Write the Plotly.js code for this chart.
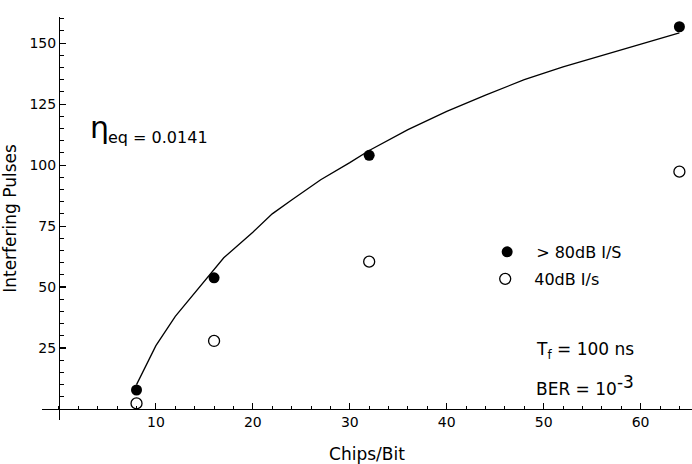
<!DOCTYPE html>
<html>
<head>
<meta charset="utf-8">
<script src="https://cdn.plot.ly/plotly-3.0.1.min.js"></script>
<style>
  html, body { margin: 0; padding: 0; background: #fff; }
  #chart { width: 692px; height: 464px; }
</style>
</head>
<body>
<div id="chart"></div>
<script>
// Measured interfering pulses per chips/bit setting
const chipsPerBit = [8, 16, 32, 64];
const pulses80dB = [7.8, 53.8, 104, 156.7];
const pulses40dB = [2.3, 27.9, 60.4, 97.3];

// Fitted curve (eta_eq = 0.0141)
const fitChips  = [8, 10, 12, 14, 16, 17, 20, 22, 24, 27, 30, 32, 36, 40, 44, 48, 52, 56, 60, 64];
const fitPulses = [10, 26, 38, 47.5, 57, 62, 72.5, 80, 85.7, 94, 101, 106, 114.5, 122, 128.7, 135, 140.3, 145, 149.5, 154.2];

// Axis ticks and ranges
const xTickVals = [10, 20, 30, 40, 50, 60];
const yTickVals = [25, 50, 75, 100, 125, 150];
const xRange = [-1.75, 65.3];
const yRange = [-4.5, 160.7];

// Axes cross at the origin
const xAxisPos = (0 - yRange[0]) / (yRange[1] - yRange[0]);
const yAxisPos = (0 - xRange[0]) / (xRange[1] - xRange[0]);

const FONT = 'DejaVu Sans, Verdana, sans-serif';

const traces = [
  {
    x: fitChips, y: fitPulses, type: 'scatter', mode: 'lines',
    line: { color: '#000', width: 1.3, shape: 'linear' },
    showlegend: false, hoverinfo: 'skip'
  },
  {
    x: chipsPerBit, y: pulses80dB, type: 'scatter', mode: 'markers',
    name: '> 80dB I/S',
    marker: { symbol: 'circle', size: 11, color: '#000' },
    legend: 'legend'
  },
  {
    x: chipsPerBit, y: pulses40dB, type: 'scatter', mode: 'markers',
    name: '40dB I/s',
    marker: { symbol: 'circle-open', size: 11, color: '#000', line: { width: 1.3, color: '#000' } },
    legend: 'legend2'
  }
];

const legendCommon = {
  xanchor: 'left', yanchor: 'middle',
  bgcolor: 'rgba(0,0,0,0)', borderwidth: 0,
  itemwidth: 48,
  font: { family: FONT, size: 16, color: '#000' }
};

const layout = {
  width: 692, height: 464,
  margin: { l: 42, r: 0, t: 17, b: 44, pad: 0 },
  paper_bgcolor: '#fff', plot_bgcolor: '#fff',
  font: { family: FONT, size: 14, color: '#000' },
  showlegend: true,
  legend: Object.assign({ x: 0.671, y: 0.417 }, legendCommon),
  legend2: Object.assign({ x: 0.668, y: 0.35 }, legendCommon),
  xaxis: {
    range: xRange, anchor: 'free', position: xAxisPos,
    showline: true, linecolor: '#000', linewidth: 1.3,
    showgrid: false, zeroline: false,
    tickmode: 'array', tickvals: xTickVals,
    ticks: 'inside', ticklen: 6, tickwidth: 1.1, tickcolor: '#000',
    tickfont: { family: FONT, size: 14, color: '#000' },
    minor: { ticks: 'inside', ticklen: 3.5, tickwidth: 1, tickcolor: '#000', tick0: 0, dtick: 2, showgrid: false },
    title: { text: 'Chips/Bit', font: { family: FONT, size: 17, color: '#000' }, standoff: 27 }
  },
  yaxis: {
    range: yRange, anchor: 'free', position: yAxisPos,
    showline: true, linecolor: '#000', linewidth: 1.3,
    showgrid: false, zeroline: false,
    tickmode: 'array', tickvals: yTickVals,
    ticks: 'inside', ticklen: 6, tickwidth: 1.1, tickcolor: '#000',
    tickfont: { family: FONT, size: 14, color: '#000' },
    minor: { ticks: 'inside', ticklen: 3.5, tickwidth: 1, tickcolor: '#000', tick0: 0, dtick: 5, showgrid: false },
    title: { text: 'Interfering Pulses', font: { family: FONT, size: 17, color: '#000' }, standoff: 16 }
  },
  annotations: [
    { xref: 'x', yref: 'y', x: 3.0, y: 115.5, xanchor: 'left', yanchor: 'middle', showarrow: false,
      text: 'η', font: { family: FONT, size: 30, color: '#000' } },
    { xref: 'x', yref: 'y', x: 4.85, y: 111.3, xanchor: 'left', yanchor: 'middle', showarrow: false,
      text: 'eq = 0.0141', font: { family: FONT, size: 16, color: '#000' } },
    { xref: 'x', yref: 'y', x: 49.0, y: 23.8, xanchor: 'left', yanchor: 'middle', showarrow: false,
      text: 'T<sub>f</sub> = 100 ns', font: { family: FONT, size: 17, color: '#000' } },
    { xref: 'x', yref: 'y', x: 49.0, y: 9.5, xanchor: 'left', yanchor: 'middle', showarrow: false,
      text: 'BER = 10<sup><span style="font-size:17px">-3</span></sup>', font: { family: FONT, size: 17, color: '#000' } }
  ]
};

Plotly.newPlot('chart', traces, layout, { staticPlot: true, displayModeBar: false });
</script>
</body>
</html>
